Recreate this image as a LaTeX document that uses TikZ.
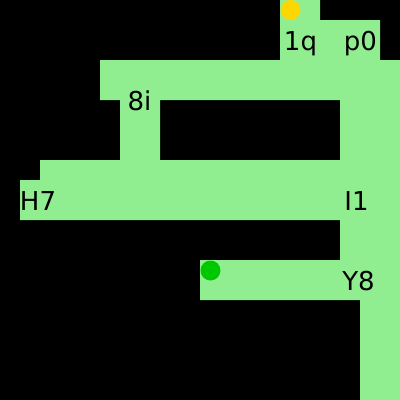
\documentclass[tikz,border=0pt]{standalone}
\usepackage{fontspec}
\setsansfont{DejaVu Sans}
\definecolor{floorgreen}{RGB}{144,238,144}
\definecolor{goalgreen}{RGB}{0,200,0}
\definecolor{startgold}{RGB}{255,215,0}

\begin{document}
\begin{tikzpicture}[
    x=1pt, y=-1pt,
    every node/.style={font=\sffamily\fontsize{26}{30}\selectfont},
    floor/.style={fill=floorgreen},
    tag/.style={anchor=base, inner sep=0pt, text=black},
    marker/.style={circle, minimum size=20pt, inner sep=0pt, draw=none}
]

% Background
\fill[black] (0,0) rectangle (400,400);
\useasboundingbox (0,0) rectangle (400,400);

% Corridors
\fill[floor] (280,0) rectangle (320,20)
    (280,20) rectangle (380,60)
    (100,60) rectangle (400,100)
    (120,100) rectangle (160,160)
    (340,100) rectangle (400,160)
    (40,160) rectangle (400,180)
    (20,180) rectangle (400,220)
    (340,220) rectangle (400,260)
    (200,260) rectangle (400,300)
    (360,300) rectangle (400,400);

% Labels
\node[tag] (oneq) at (300.5,50) {1q};
\node[tag] (pzero) at (360.5,50) {p0};
\node[tag] (eighti) at (139.5,110.5) {8i};
\node[tag] (hseven) at (38,210) {H7};
\node[tag] (ione) at (356.5,210) {I1};
\node[tag] (yeight) at (358.5,290) {Y8};

% Markers
\node[marker, fill=startgold] (start) at (290.5,10) {};
\node[marker, fill=goalgreen] (goal) at (210.5,270.5) {};

\end{tikzpicture}
\end{document}
